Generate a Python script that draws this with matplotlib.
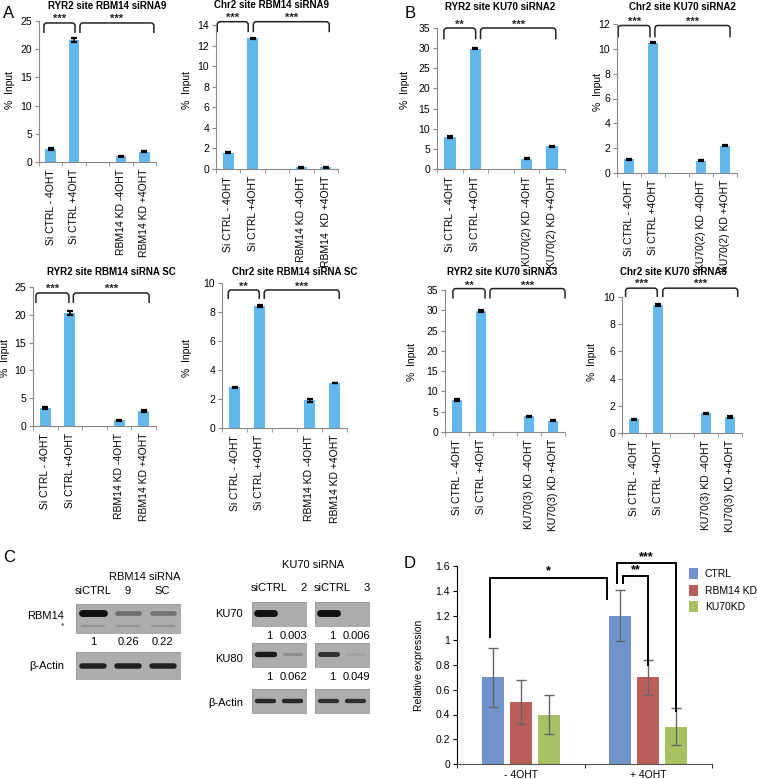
import numpy as np
import matplotlib
matplotlib.use('Agg')
import matplotlib.pyplot as plt
from matplotlib.path import Path
from matplotlib.patches import PathPatch, Patch
from matplotlib.transforms import blended_transform_factory, offset_copy
from matplotlib.ticker import FuncFormatter

plt.rcParams['font.family'] = ['Liberation Sans', 'DejaVu Sans']

W, H = 757, 779

# ---------------- data ----------------
labels_rbm9 = ['Si CTRL - 4OHT', 'Si CTRL +4OHT', '', 'RBM14 KD -4OHT', 'RBM14 KD +4OHT']
labels_rbm9b = ['Si CTRL - 4OHT', 'Si CTRL +4OHT', '', 'RBM14 KD -4OHT', 'RBM14  KD +4OHT']
labels_ku2 = ['Si CTRL - 4OHT', 'Si CTRL +4OHT', '', 'KU70(2) KD -4OHT', 'KU70(2) KD +4OHT']
labels_ku3 = ['Si CTRL - 4OHT', 'Si CTRL +4OHT', '', 'KU70(3) KD -4OHT', 'KU70(3) KD +4OHT']

nan = np.nan
ryr2_rbm9 = [2.3, 21.6, nan, 1.0, 1.8]
ryr2_rbm9_err = [0.15, 0.35, nan, 0.12, 0.1]
chr2_rbm9 = [1.6, 12.7, nan, 0.15, 0.15]
chr2_rbm9_err = [0.05, 0.05, nan, 0.04, 0.04]
ryr2_rbmsc = [3.2, 20.3, nan, 1.0, 2.7]
ryr2_rbmsc_err = [0.2, 0.4, nan, 0.12, 0.12]
chr2_rbmsc = [2.8, 8.4, nan, 1.9, 3.1]
chr2_rbmsc_err = [0.05, 0.08, nan, 0.08, 0.03]
ryr2_ku2 = [7.9, 29.9, nan, 2.6, 5.7]
ryr2_ku2_err = [0.2, 0.2, nan, 0.2, 0.12]
chr2_ku2 = [1.1, 10.5, nan, 1.0, 2.2]
chr2_ku2_err = [0.05, 0.06, nan, 0.05, 0.06]
ryr2_ku3 = [7.9, 29.9, nan, 3.9, 2.8]
ryr2_ku3_err = [0.15, 0.2, nan, 0.15, 0.1]
chr2_ku3 = [1.0, 9.4, nan, 1.45, 1.15]
chr2_ku3_err = [0.03, 0.05, nan, 0.03, 0.08]

titles = ['RYR2 site RBM14 siRNA9', 'Chr2 site RBM14 siRNA9',
          'RYR2 site RBM14 siRNA SC', 'Chr2 site RBM14 siRNA SC',
          'RYR2 site KU70 siRNA2', 'Chr2 site KU70 siRNA2',
          'RYR2 site KU70 siRNA3', 'Chr2 site KU70 siRNA3']
ymaxes = [25, 14, 25, 10, 35, 12, 35, 10]
ysteps = [5, 2, 5, 2, 5, 2, 5, 2]
stars_left = ['***', '***', '***', '**', '**', '***', '**', '***']
stars_right = ['***'] * 8

# panel D
groups_d = ['- 4OHT', '+ 4OHT']
series_d = ['CTRL', 'RBM14 KD', 'KU70KD']
ctrl_d = [0.7, 1.2]
ctrl_d_err = [0.24, 0.21]
rbm_d = [0.5, 0.7]
rbm_d_err = [0.18, 0.14]
ku_d = [0.4, 0.3]
ku_d_err = [0.16, 0.15]

# panel C blots (band intensities 0..1)
lanes_rbm = ['siCTRL', '9', 'SC']
rbm14_band = [1.0, 0.4, 0.38]
rbm14_star_band = [0.22, 0.22, 0.22]
rbm14_quant = ['1', '0.26', '0.22']
actin_left = [0.9, 0.9, 0.9]
lanes_ku = [['siCTRL', '2'], ['siCTRL', '3']]
ku70_band = [[1.0, 0.0], [1.0, 0.0]]
ku70_quant = [['1', '0.003'], ['1', '0.006']]
ku80_band = [[0.95, 0.2], [0.8, 0.08]]
ku80_quant = [['1', '0.062'], ['1', '0.049']]
actin_right = [[0.85, 0.85], [0.8, 0.8]]

bar_blue = '#62B8EC'
col_d = ['#7093CB', '#BA5E5B', '#A8C162']

fig = plt.figure(figsize=(W / 100, H / 100), dpi=100)
fig.patch.set_facecolor('white')


def rect(l, t, r, b):
    return [l / W, 1 - b / H, (r - l) / W, (b - t) / H]


def ftext(x, y, s, **kw):
    fig.text(x / W, 1 - y / H, s, **kw)


def bracket(ax, x1, x2, ytop, yleg, ystar, label, rx=0.12, ry=0.022):
    tr = blended_transform_factory(ax.transData, ax.transAxes)
    verts = [(x1, yleg), (x1, ytop - ry), (x1, ytop), (x1 + rx, ytop),
             (x2 - rx, ytop), (x2, ytop), (x2, ytop - ry), (x2, yleg)]
    codes = [Path.MOVETO, Path.LINETO, Path.CURVE3, Path.CURVE3,
             Path.LINETO, Path.CURVE3, Path.CURVE3, Path.LINETO]
    ax.add_patch(PathPatch(Path(verts, codes), fill=False, lw=1.1,
                           edgecolor='#222222', transform=tr, clip_on=False))
    ax.text((x1 + x2) / 2, ystar, label, ha='center', va='center', fontsize=8,
            fontweight='bold', color='#222222', clip_on=False,
            transform=offset_copy(tr, fig=fig, y=-2.5, units='points'))


# ---------------- panels A and B ----------------
chart_vals = [ryr2_rbm9, chr2_rbm9, ryr2_rbmsc, chr2_rbmsc,
              ryr2_ku2, chr2_ku2, ryr2_ku3, chr2_ku3]
chart_errs = [ryr2_rbm9_err, chr2_rbm9_err, ryr2_rbmsc_err, chr2_rbmsc_err,
              ryr2_ku2_err, chr2_ku2_err, ryr2_ku3_err, chr2_ku3_err]
chart_labels = [labels_rbm9, labels_rbm9b, labels_rbm9, labels_rbm9,
                labels_ku2, labels_ku2, labels_ku3, labels_ku3]

boxes = [(39, 21, 156, 162), (216, 25, 338, 169), (33, 287, 156, 426), (222, 283, 347, 428),
         (437, 28, 565, 169), (617, 24, 737, 173), (445, 290, 565, 432), (622, 297, 742, 433)]
title_pos = [(107, 6), (272, 5), (111, 272), (295, 272),
             (500, 7), (682, 7), (502, 272), (673, 272)]
ylab_pos = [(10, 90), (187, 90), (5, 358), (187, 358),
            (405, 90), (598, 92), (412, 362), (592, 362)]
# bracket geometry: (left x1, left x2, right x1, right x2, top, leg, star) x in categories, y in axes fraction
brk = [(-0.29, 1.04, 1.25, 4.41, 0.986, 0.915, 1.04),
       (-0.45, 0.82, 1.03, 4.14, 1.023, 0.95, 1.075),
       (-0.38, 0.96, 1.14, 4.22, 0.957, 0.885, 1.01),
       (-0.25, 0.99, 1.19, 4.19, 0.952, 0.89, 1.0),
       (-0.23, 1.01, 1.2, 4.14, 1.0, 0.92, 1.045),
       (-0.45, 0.875, 1.08, 4.21, 0.99, 0.91, 1.035),
       (-0.17, 1.17, 1.375, 4.5, 1.01, 0.94, 1.055),
       (-0.35, 0.97, 1.2, 4.32, 1.065, 1.0, 1.12)]

for i in range(8):
    ax = fig.add_axes(rect(*boxes[i]))
    vals = np.array(chart_vals[i], dtype=float)
    errs = np.array(chart_errs[i], dtype=float)
    x = np.arange(len(vals))
    ok = ~np.isnan(vals)
    ax.bar(x[ok], vals[ok], width=0.45, color=bar_blue, yerr=errs[ok],
           error_kw=dict(ecolor='black', capsize=2.2, elinewidth=1.2, capthick=1.6))
    ax.set_xlim(-0.5, len(vals) - 0.5)
    ax.set_ylim(0, ymaxes[i])
    ax.set_yticks(np.arange(0, ymaxes[i] + 0.1, ysteps[i]))
    ax.set_xticks(x)
    ax.set_xticklabels(chart_labels[i], rotation=90, fontsize=7.5)
    ax.set_xticks(np.arange(-0.5, len(vals)), minor=True)
    ax.tick_params(axis='x', which='major', length=0, pad=5)
    ax.tick_params(axis='x', which='minor', length=3, color='#888888')
    ax.tick_params(axis='y', length=3, color='#888888', labelsize=7.5, pad=2)
    for s in ['top', 'right']:
        ax.spines[s].set_visible(False)
    for s in ['left', 'bottom']:
        ax.spines[s].set_color('#888888')
        ax.spines[s].set_linewidth(0.8)
    ax.patch.set_alpha(0)
    b = brk[i]
    bracket(ax, b[0], b[1], b[4], b[5], b[6], stars_left[i])
    bracket(ax, b[2], b[3], b[4], b[5], b[6], stars_right[i])
    ftext(*title_pos[i], titles[i], ha='center', va='center', fontsize=7, fontweight='bold')
    ftext(*ylab_pos[i], '%  Input', ha='center', va='center', rotation=90, fontsize=7.5)

ftext(9, 13, 'A', ha='center', va='center', fontsize=12)
ftext(410, 13, 'B', ha='center', va='center', fontsize=12)
ftext(9, 557, 'C', ha='center', va='center', fontsize=12)
ftext(410, 563, 'D', ha='center', va='center', fontsize=12)

# ---------------- panel C ----------------
blot_bg = '#ADADAD'


def strip(box, bands, ypos=0.55, lw=4.5, extra=None):
    ax = fig.add_axes(rect(*box))
    ax.set_facecolor(blot_bg)
    n = len(bands)
    ax.set_xlim(-0.5, n - 0.5)
    ax.set_ylim(0, 1)
    for j, b in enumerate(bands):
        if b > 0.01:
            ax.plot([j - 0.32, j + 0.32], [ypos, ypos], color='#111111', alpha=b,
                    lw=lw * (0.45 + 0.55 * b), solid_capstyle='round')
    if extra is not None:
        for j, b in enumerate(extra):
            ax.plot([j - 0.32, j + 0.32], [0.25, 0.25], color='#333333', alpha=b,
                    lw=1.6, solid_capstyle='round')
    ax.set_xticks([])
    ax.set_yticks([])
    for s in ax.spines.values():
        s.set_color('#9A9A9A')
        s.set_linewidth(0.6)
    return ax


ax_r = strip((76, 604, 180, 633), rbm14_band, ypos=0.7, lw=5, extra=rbm14_star_band)
tr = blended_transform_factory(ax_r.transData, ax_r.transAxes)
for j, s in enumerate(lanes_rbm):
    ax_r.text(j, 1.45, s, ha='center', va='center', fontsize=8, transform=tr)
for j, s in enumerate(rbm14_quant):
    ax_r.text(j, -0.32, s, ha='center', va='center', fontsize=8, transform=tr)
strip((76, 652, 180, 679), actin_left, ypos=0.5, lw=4.2)
ftext(145, 577, 'RBM14 siRNA', ha='center', va='center', fontsize=8)
ftext(64, 616, 'RBM14', ha='right', va='center', fontsize=8)
ftext(64, 626, '*', ha='right', va='center', fontsize=6)
ftext(64, 666, 'β-Actin', ha='right', va='center', fontsize=8)

ku_boxes_x = [(252, 306), (315, 369)]
for k in range(2):
    l, r = ku_boxes_x[k]
    a70 = strip((l, 602, r, 626), ku70_band[k], ypos=0.55, lw=5)
    tr = blended_transform_factory(a70.transData, a70.transAxes)
    for j, s in enumerate(lanes_ku[k]):
        a70.text(j + (0.15 if j == 0 else 0.4), 1.58, s, ha='center', va='center',
                 fontsize=8, transform=tr)
    for j, s in enumerate(ku70_quant[k]):
        a70.text(j + (0.15 if j == 0 else 0.05), -0.42, s, ha='center', va='center',
                 fontsize=8, transform=tr)
    a80 = strip((l, 643, r, 667), ku80_band[k], ypos=0.55, lw=4)
    tr = blended_transform_factory(a80.transData, a80.transAxes)
    for j, s in enumerate(ku80_quant[k]):
        a80.text(j + (0.15 if j == 0 else 0.05), -0.42, s, ha='center', va='center',
                 fontsize=8, transform=tr)
    strip((l, 689, r, 713), actin_right[k], ypos=0.5, lw=3.5)
ftext(313, 565, 'KU70 siRNA', ha='center', va='center', fontsize=8)
ftext(243, 614, 'KU70', ha='right', va='center', fontsize=8)
ftext(243, 659, 'KU80', ha='right', va='center', fontsize=8)
ftext(243, 703, 'β-Actin', ha='right', va='center', fontsize=8)

# ---------------- panel D ----------------
axd = fig.add_axes(rect(457, 566, 712, 764))
xg = np.arange(len(groups_d))
offs = [-0.22, 0.0, 0.22]
d_vals = [ctrl_d, rbm_d, ku_d]
d_errs = [ctrl_d_err, rbm_d_err, ku_d_err]
for k in range(3):
    axd.bar(xg + offs[k], d_vals[k], width=0.17, color=col_d[k], yerr=d_errs[k],
            error_kw=dict(ecolor='#666666', capsize=3.5, elinewidth=1, capthick=1),
            label=series_d[k])
axd.set_xlim(-0.5, 1.5)
axd.set_ylim(0, 1.6)
axd.set_yticks(np.arange(0, 1.61, 0.2))
axd.yaxis.set_major_formatter(FuncFormatter(lambda v, p: '%g' % round(v, 1)))
axd.set_xticks(xg)
axd.set_xticklabels(groups_d, fontsize=7.5)
axd.set_xticks([-0.5, 0.5, 1.5], minor=True)
axd.tick_params(axis='x', which='major', length=0, pad=4)
axd.tick_params(axis='x', which='minor', length=3)
axd.tick_params(axis='y', length=3, labelsize=7.5, pad=2)
axd.set_ylabel('Relative expression', fontsize=7.5, labelpad=8)
for s in ['top', 'right']:
    axd.spines[s].set_visible(False)
axd.spines['bottom'].set_color('#555555')
axd.patch.set_alpha(0)


def dbracket(xl, yl, xr, yr, ytop, label, ty):
    axd.plot([xl, xl, xr, xr], [yl, ytop, ytop, yr], color='black', lw=1.4,
             clip_on=False, solid_joinstyle='miter')
    axd.text((xl + xr) / 2, ty, label, ha='center', va='center', fontsize=9,
             fontweight='bold', clip_on=False)


dbracket(-0.24, 1.03, 0.674, 1.33, 1.50, '*', 1.56)
dbracket(0.80, 1.46, 1.0, 0.80, 1.52, '**', 1.57)
dbracket(0.755, 1.46, 1.218, 0.43, 1.625, '***', 1.675)

handles = [Patch(facecolor=col_d[k], label=series_d[k]) for k in range(3)]
fig.legend(handles=handles, loc='upper left', bbox_to_anchor=(689 / W, 1 - 568 / H),
           frameon=False, fontsize=7.5, handlelength=0.9, handleheight=1.3,
           handletextpad=0.6, labelspacing=0.5, borderaxespad=0, borderpad=0)

plt.savefig('out.png', dpi=100)
